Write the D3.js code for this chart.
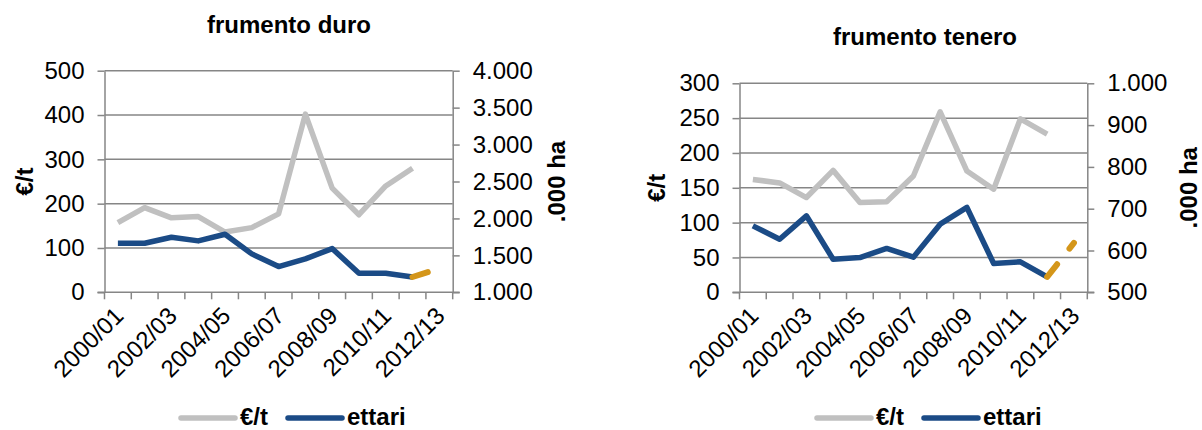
<!DOCTYPE html>
<html>
<head>
  <meta charset="utf-8">
  <script src="https://d3js.org/d3.v7.min.js"></script>
  <style>
    body { margin: 0; background: #fff; }
    text { font-family: "Liberation Sans", Arial, sans-serif; fill: #000; }
    .grid line { stroke: #868686; stroke-width: 1.5; }
    .axis path, .axis line { stroke: #868686; stroke-width: 1.5; }
  </style>
</head>
<body>
<script>
  // categories (campagne)
  var campagne = ["2000/01","2001/02","2002/03","2003/04","2004/05","2005/06","2006/07",
                  "2007/08","2008/09","2009/10","2010/11","2011/12","2012/13"];

  // frumento duro
  var duroPrezzo = [157, 191, 168, 171, 136, 146, 177, 402, 235, 175, 240, 280, null];
  var duroEttari = [1664, 1664, 1745, 1696, 1786, 1520, 1348, 1452, 1592, 1258, 1258, 1207, null];
  var duroStima  = [null, null, null, null, null, null, null, null, null, null, null, 1207, 1323];

  // frumento tenero
  var teneroPrezzo = [162, 157, 136, 175, 129, 130, 167, 259, 174, 148, 249, 227, null];
  var teneroEttari = [659, 627, 683, 579, 583, 605, 584, 663, 703, 569, 573, 537, null];
  var teneroStima  = [null, null, null, null, null, null, null, null, null, null, null, 537, 618];

  // axis ticks
  var duroTickSx = [0, 100, 200, 300, 400, 500];
  var duroTickDx = [1000, 1500, 2000, 2500, 3000, 3500, 4000];
  var teneroTickSx = [0, 50, 100, 150, 200, 250, 300];
  var teneroTickDx = [500, 600, 700, 800, 900, 1000];

  var legendaVoci = ["€/t", "ettari"];

  var colGrigio = "#c0c0c0", colBlu = "#1b4b86", colArancio = "#d4961a";

  var it = d3.formatLocale({decimal: ",", thousands: ".", grouping: [3], currency: ["€", ""]});
  var fmt = it.format(",");

  var svg = d3.select("body").append("svg")
    .attr("width", 1202)
    .attr("height", 430);

  function drawChart(c) {
    var g = svg.append("g");

    var x = d3.scaleBand().domain(campagne).range([c.left, c.right]);
    var ySx = d3.scaleLinear().domain([c.tickSx[0], c.tickSx[c.tickSx.length - 1]]).range([c.bottom, c.top]);
    var yDx = d3.scaleLinear().domain([c.tickDx[0], c.tickDx[c.tickDx.length - 1]]).range([c.bottom, c.top]);

    // title
    g.append("text")
      .attr("x", c.titleX).attr("y", c.titleY)
      .attr("text-anchor", "middle")
      .style("font-size", "24px").style("font-weight", "bold")
      .text(c.title);

    // horizontal gridlines
    g.append("g").attr("class", "grid")
      .selectAll("line").data(c.tickSx.slice(1)).enter()
      .append("line")
      .attr("x1", c.left).attr("x2", c.right)
      .attr("y1", function (d) { return ySx(d); })
      .attr("y2", function (d) { return ySx(d); });

    // left axis
    var axL = g.append("g").attr("class", "axis")
      .attr("transform", "translate(" + c.left + ",0)")
      .call(d3.axisLeft(ySx).tickValues(c.tickSx).tickSize(7).tickSizeOuter(0).tickPadding(13).tickFormat(fmt));
    axL.selectAll("text").style("font-size", "24px");

    // right axis
    var axR = g.append("g").attr("class", "axis")
      .attr("transform", "translate(" + c.right + ",0)")
      .call(d3.axisRight(yDx).tickValues(c.tickDx).tickSize(7).tickSizeOuter(0).tickPadding(13).tickFormat(fmt));
    axR.selectAll("text").style("font-size", "24px");

    // bottom axis: ticks at category boundaries
    var bnd = d3.range(campagne.length + 1).map(function (i) { return c.left + i * x.step(); });
    var axB = g.append("g").attr("class", "axis");
    axB.append("line")
      .attr("x1", c.left - 7).attr("x2", c.right + 7)
      .attr("y1", c.bottom).attr("y2", c.bottom);
    axB.selectAll("line.tk").data(bnd).enter()
      .append("line").attr("class", "tk")
      .attr("x1", function (d) { return d; }).attr("x2", function (d) { return d; })
      .attr("y1", c.bottom).attr("y2", c.bottom + 7);

    g.selectAll("text.cat").data(campagne.filter(function (d, i) { return i % 2 === 0; })).enter()
      .append("text").attr("class", "cat")
      .attr("text-anchor", "end")
      .attr("transform", function (d) {
        return "translate(" + (x(d) + x.bandwidth() / 2 + 7) + "," + (c.bottom + 25) + ") rotate(-45)";
      })
      .style("font-size", "24px")
      .text(function (d) { return d; });

    // axis titles
    g.append("text")
      .attr("transform", "translate(" + c.ltX + "," + (c.top + c.bottom) / 2 + ") rotate(-90)")
      .attr("text-anchor", "middle").attr("dy", "0.35em")
      .style("font-size", "24px").style("font-weight", "bold")
      .text("€/t");
    g.append("text")
      .attr("transform", "translate(" + c.rtX + "," + (c.top + c.bottom) / 2 + ") rotate(-90)")
      .attr("text-anchor", "middle").attr("dy", "0.35em")
      .style("font-size", "24px").style("font-weight", "bold")
      .text(".000 ha");

    // series
    var cx = function (d, i) { return x(campagne[i]) + x.bandwidth() / 2; };
    var lineSx = d3.line().defined(function (d) { return d != null; }).x(cx).y(function (d) { return ySx(d); });
    var lineDx = d3.line().defined(function (d) { return d != null; }).x(cx).y(function (d) { return yDx(d); });

    g.append("path").datum(c.prezzo)
      .attr("d", lineSx).attr("fill", "none")
      .attr("stroke", colGrigio).attr("stroke-width", 5.5).attr("stroke-linejoin", "round");
    g.append("path").datum(c.ettari)
      .attr("d", lineDx).attr("fill", "none")
      .attr("stroke", colBlu).attr("stroke-width", 5.5).attr("stroke-linejoin", "round");
    g.append("path").datum(c.stima)
      .attr("d", lineDx).attr("fill", "none")
      .attr("stroke", colArancio).attr("stroke-width", 6)
      .attr("stroke-linecap", "round").attr("stroke-dasharray", "16,20");

    // legend
    var leg = g.append("g").attr("transform", "translate(" + c.legX + ",418)");
    var cols = [colGrigio, colBlu];
    var offs = [0, 107];
    legendaVoci.forEach(function (v, i) {
      leg.append("line")
        .attr("x1", offs[i]).attr("x2", offs[i] + 54)
        .attr("y1", 0).attr("y2", 0)
        .attr("stroke", cols[i]).attr("stroke-width", 5.5).attr("stroke-linecap", "round");
      leg.append("text")
        .attr("x", offs[i] + 59).attr("dy", "0.3em")
        .style("font-size", "24px").style("font-weight", "bold")
        .text(v);
    });
  }

  drawChart({
    title: "frumento duro", titleX: 289, titleY: 33,
    left: 104.5, right: 452.7, top: 70.7, bottom: 292.3,
    tickSx: duroTickSx, tickDx: duroTickDx,
    prezzo: duroPrezzo, ettari: duroEttari, stima: duroStima,
    ltX: 25, rtX: 557, legX: 181
  });

  drawChart({
    title: "frumento tenero", titleX: 925, titleY: 45,
    left: 739.5, right: 1087.3, top: 83.3, bottom: 292.3,
    tickSx: teneroTickSx, tickDx: teneroTickDx,
    prezzo: teneroPrezzo, ettari: teneroEttari, stima: teneroStima,
    ltX: 657, rtX: 1189, legX: 817
  });
</script>
</body>
</html>
